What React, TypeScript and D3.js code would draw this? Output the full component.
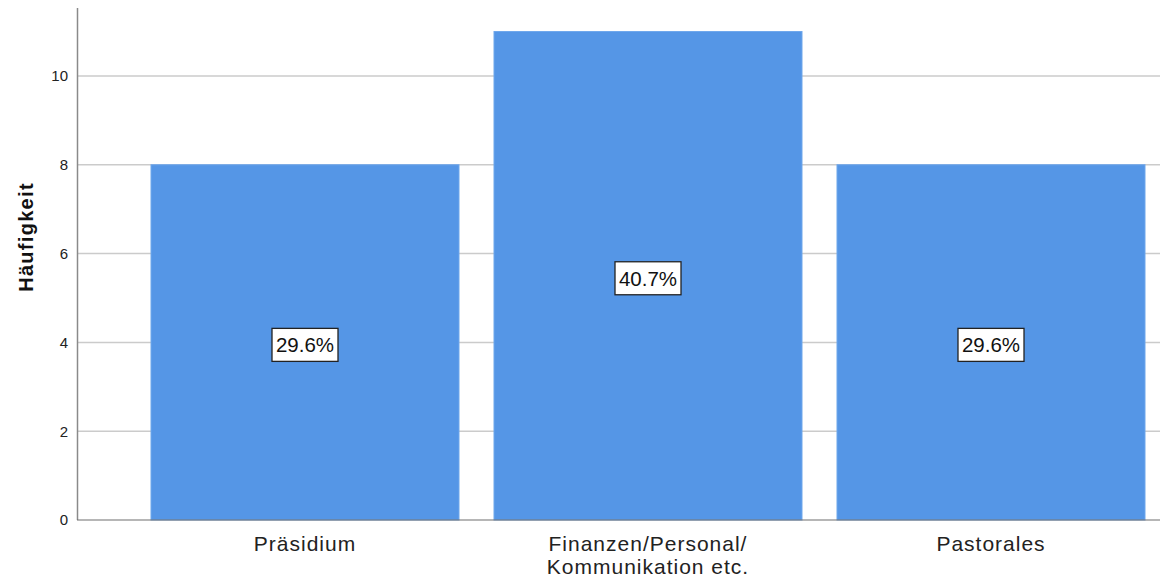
import React from "react";
import * as d3 from "d3";

const categories = ["Präsidium", "Finanzen/Personal/\nKommunikation etc.", "Pastorales"];
const counts = [8, 11, 8];
const percentLabels = ["29.6%", "40.7%", "29.6%"];
const yTicks = [0, 2, 4, 6, 8, 10];

const W = 1160;
const H = 581;

export default function App() {
  const y = d3.scaleLinear().domain([0, 11.53]).range([520, 8]);
  const x = d3
    .scaleBand<string>()
    .domain(categories)
    .range([133.5, 1162.5])
    .paddingInner(35 / 343)
    .paddingOuter(17.5 / 343);
  const font = "'Liberation Sans', Arial, sans-serif";
  return (
    <svg
      width={W}
      height={H}
      style={{ position: "absolute", left: 0, top: 0, background: "#fff" }}
      fontFamily={font}
    >
      {yTicks.filter((t) => t > 0).map((t) => (
        <line key={t} x1={78} x2={W} y1={y(t)} y2={y(t)} stroke="#cbcbcb" strokeWidth={1.5} />
      ))}
      {categories.map((c, i) => (
        <rect
          key={c}
          x={x(c)}
          y={y(counts[i])}
          width={x.bandwidth()}
          height={y(0) - y(counts[i])}
          fill="#5596e6"
          stroke="#6fa7ec"
          strokeWidth={1}
        />
      ))}
      <line x1={77.5} x2={77.5} y1={8} y2={520} stroke="#8a8a8a" strokeWidth={1.5} />
      <line x1={77} x2={W} y1={520} y2={520} stroke="#6e6e6e" strokeWidth={1.2} />
      {yTicks.map((t) => (
        <text key={t} x={68} y={y(t)} dy="0.36em" textAnchor="end" fontSize={15} fill="#222">
          {t}
        </text>
      ))}
      <text
        transform={`translate(33,${237}) rotate(-90)`}
        textAnchor="middle"
        fontSize={20}
        fontWeight="bold"
        letterSpacing={1.3}
        fill="#111"
      >
        Häufigkeit
      </text>
      {categories.map((c) => {
        const lines = c.split("\n");
        const cx = (x(c) as number) + x.bandwidth() / 2;
        return (
          <text key={c} x={cx} y={551} textAnchor="middle" fontSize={21} letterSpacing={1} fill="#222">
            {lines.map((l, j) => (
              <tspan key={j} x={cx} dy={j === 0 ? 0 : 23}>
                {l}
              </tspan>
            ))}
          </text>
        );
      })}
      {categories.map((c, i) => {
        const cx = (x(c) as number) + x.bandwidth() / 2;
        const cy = y(counts[i] / 2) + 2.5;
        const bw = 66;
        const bh = 33;
        return (
          <g key={c}>
            <rect x={cx - bw / 2} y={cy - bh / 2} width={bw} height={bh} fill="#fff" stroke="#222" strokeWidth={1.3} />
            <text x={cx} y={cy} dy="0.36em" textAnchor="middle" fontSize={20.5} fill="#111">
              {percentLabels[i]}
            </text>
          </g>
        );
      })}
    </svg>
  );
}
